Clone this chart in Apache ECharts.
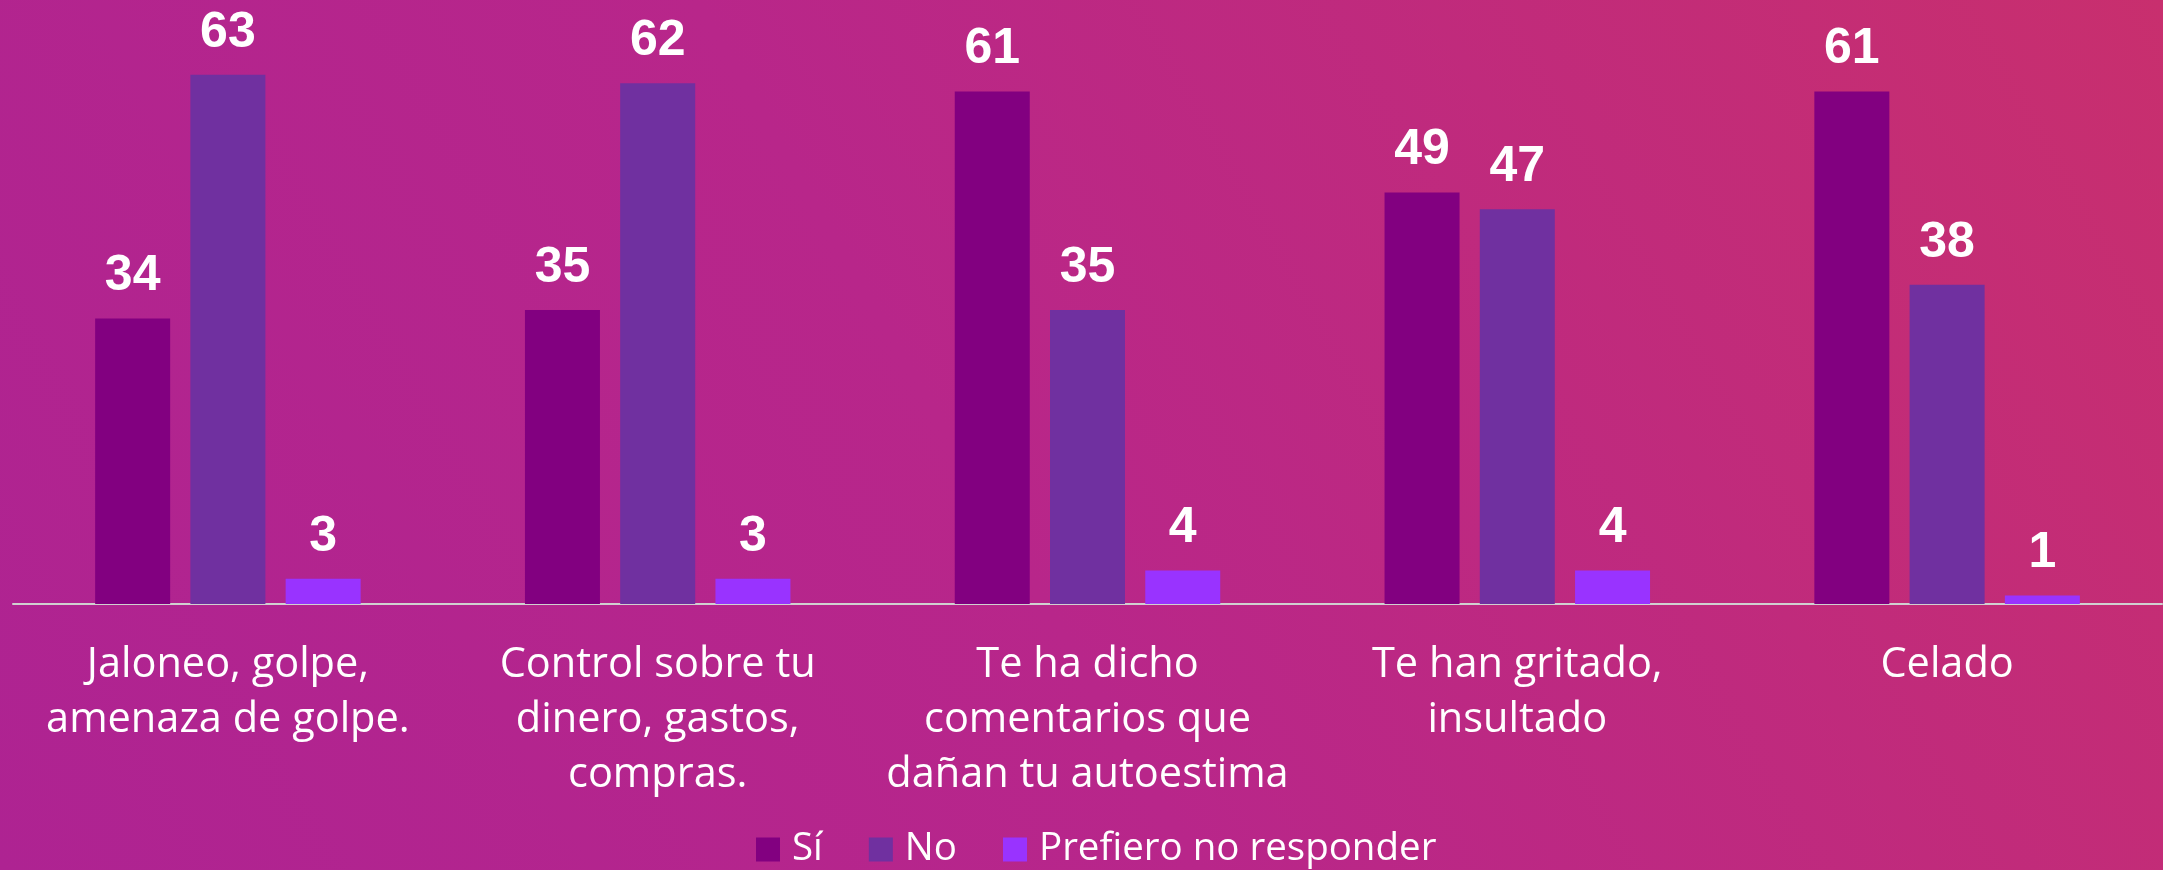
<!DOCTYPE html>
<html>
<head>
<meta charset="utf-8">
<script src="https://cdn.jsdelivr.net/npm/echarts@6/dist/echarts.min.js"></script>
<style>
  html, body { margin: 0; padding: 0; }
  body {
    width: 2163px; height: 870px; overflow: hidden;
    background: linear-gradient(60deg, #ae2392 0%, #b8268a 45%, #c82f6e 100%);
  }
  #chart { width: 2163px; height: 870px; }
</style>
</head>
<body>
<div id="chart"></div>
<script>
// categorias y valores
var categorias = [
  "Jaloneo, golpe,\namenaza de golpe.",
  "Control sobre tu\ndinero, gastos,\ncompras.",
  "Te ha dicho\ncomentarios que\ndañan tu autoestima",
  "Te han gritado,\ninsultado",
  "Celado"
];
var si = [34, 35, 61, 49, 61];
var no = [63, 62, 35, 47, 38];
var prefiero = [3, 3, 4, 4, 1];

var myChart = echarts.init(document.getElementById("chart"));

var etiqueta = {
  show: true,
  position: "top",
  distance: 17,
  color: "#ffffff",
  fontFamily: "Liberation Sans",
  fontWeight: "bold",
  fontSize: 50
};

myChart.setOption({
  backgroundColor: "transparent",
  animation: false,
  grid: { left: 13, right: 1, top: 16, bottom: 266 },
  legend: {
    bottom: -4,
    left: 751,
    itemWidth: 24,
    itemHeight: 24,
    itemGap: 46,
    icon: "rect",
    textStyle: {
      color: "#ffffff",
      fontFamily: "Open Sans",
      fontSize: 38.5,
      padding: [0, 0, 0, 7]
    }
  },
  xAxis: {
    type: "category",
    data: categorias,
    axisTick: { show: false },
    axisLine: { lineStyle: { color: "#d0d0d0", width: 2 } },
    axisLabel: {
      color: "#ffffff",
      fontFamily: "Open Sans",
      fontSize: 41.5,
      lineHeight: 55,
      margin: 34,
      interval: 0
    }
  },
  yAxis: {
    type: "value",
    min: 0,
    max: 70,
    show: false,
    splitLine: { show: false }
  },
  series: [
    { name: "Sí", type: "bar", data: si, barWidth: 75, barGap: "27%",
      itemStyle: { color: "#820080" }, label: etiqueta },
    { name: "No", type: "bar", data: no, barWidth: 75, barGap: "27%",
      itemStyle: { color: "#7030a0" }, label: etiqueta },
    { name: "Prefiero no responder", type: "bar", data: prefiero, barWidth: 75, barGap: "27%",
      itemStyle: { color: "#9933ff" }, label: etiqueta }
  ]
});
</script>
</body>
</html>
